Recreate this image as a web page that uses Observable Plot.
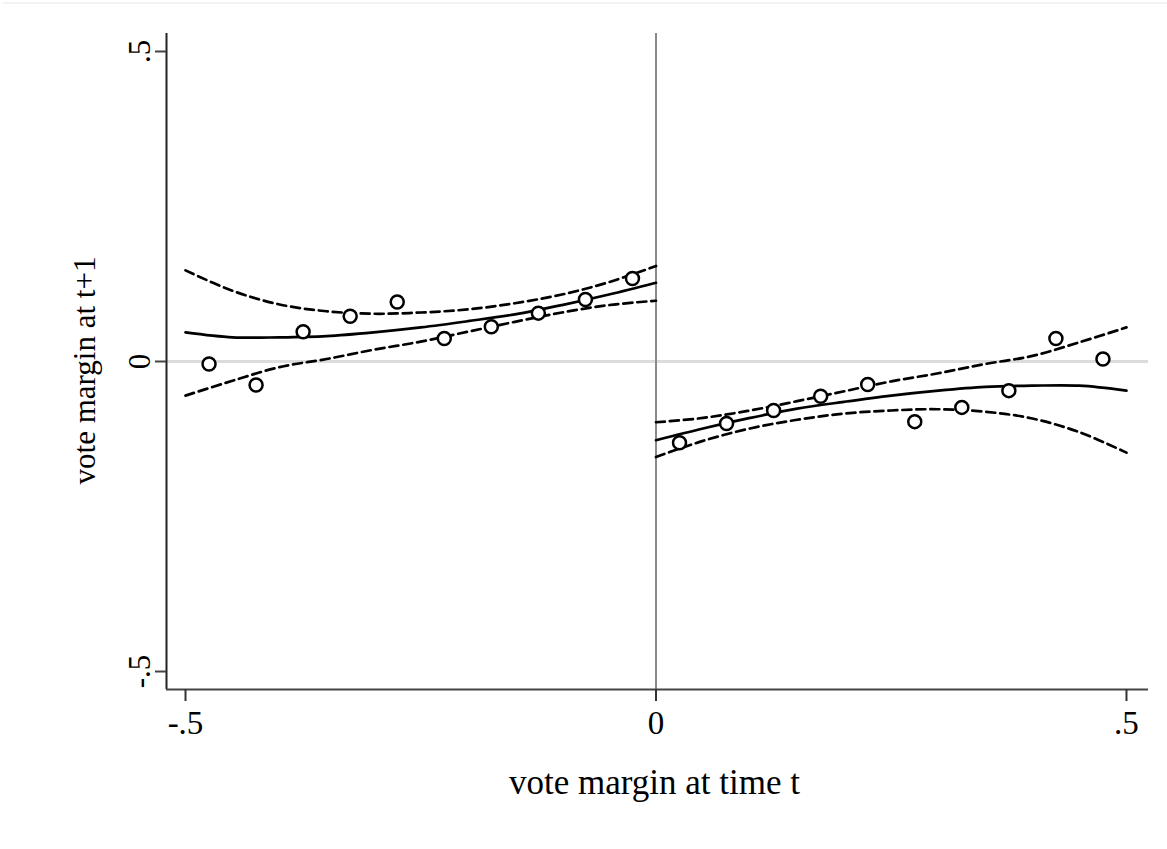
<!DOCTYPE html>
<html>
<head>
<meta charset="utf-8">
<script src="https://cdn.jsdelivr.net/npm/d3@7"></script>
<script src="https://cdn.jsdelivr.net/npm/@observablehq/plot@0.6"></script>
<style>
  html, body { margin: 0; padding: 0; background: #fff; }
  #chart { position: absolute; left: 0; top: 0; }
  #topline { position: absolute; left: 3px; right: 0; top: 2px; height: 2px; background: #f2f2f2; }
</style>
</head>
<body>
<div id="chart"></div>
<div id="topline"></div>
<script>
// ---- Data ----
const binXLeft  = [-0.475, -0.425, -0.375, -0.325, -0.275, -0.225, -0.175, -0.125, -0.075, -0.025];
const binYLeft  = [-0.004, -0.038, 0.048, 0.073, 0.096, 0.037, 0.056, 0.078, 0.100, 0.134];
const binXRight = [0.025, 0.075, 0.125, 0.175, 0.225, 0.275, 0.325, 0.375, 0.425, 0.475];
const binYRight = [-0.131, -0.100, -0.079, -0.056, -0.037, -0.097, -0.074, -0.047, 0.037, 0.004];

const fitXLeft   = [-0.5, -0.45, -0.4, -0.35, -0.3, -0.25, -0.2, -0.15, -0.1, -0.05, 0];
const fitLeft    = [0.047, 0.039, 0.039, 0.041, 0.047, 0.055, 0.065, 0.076, 0.091, 0.108, 0.127];
const upperLeft  = [0.147, 0.114, 0.092, 0.081, 0.077, 0.079, 0.084, 0.094, 0.108, 0.128, 0.154];
const lowerLeft  = [-0.055, -0.031, -0.009, 0.004, 0.019, 0.032, 0.048, 0.064, 0.079, 0.091, 0.098];

const fitXRight  = [0, 0.05, 0.1, 0.15, 0.2, 0.25, 0.3, 0.35, 0.4, 0.45, 0.5];
const fitRight   = [-0.127, -0.108, -0.091, -0.076, -0.065, -0.055, -0.047, -0.041, -0.039, -0.039, -0.047];
const upperRight = [-0.098, -0.091, -0.079, -0.064, -0.048, -0.032, -0.019, -0.004, 0.009, 0.031, 0.055];
const lowerRight = [-0.154, -0.128, -0.108, -0.094, -0.084, -0.079, -0.077, -0.081, -0.092, -0.114, -0.147];

const xTicks = [-0.5, 0, 0.5];
const xTickLabels = ["-.5", "0", ".5"];
const yTicks = [-0.5, 0, 0.5];
const yTickLabels = ["-.5", "0", ".5"];
const xTitle = "vote margin at time t";
const yTitle = "vote margin at t+1";

const xDomain = [-0.5202, 0.5234];
const yDomain = [-0.529, 0.529];

// ---- Chart ----
const solid = {stroke: "black", strokeWidth: 2.7, curve: "catmull-rom"};
const dashed = {stroke: "black", strokeWidth: 2.7, strokeDasharray: "9,5", curve: "catmull-rom"};

const chart = Plot.plot({
  width: 1167,
  height: 849,
  marginLeft: 166,
  marginRight: 19,
  marginTop: 33,
  marginBottom: 160,
  style: {fontFamily: "'Liberation Serif', 'Times New Roman', serif", background: "white", color: "black"},
  x: {domain: xDomain},
  y: {domain: yDomain},
  marks: [
    Plot.ruleY([0], {stroke: "#dcdcdc", strokeWidth: 3}),
    Plot.ruleX([0], {stroke: "#8a8a8a", strokeWidth: 2}),
    Plot.ruleX([xDomain[0]], {stroke: "#222", strokeWidth: 2}),
    Plot.ruleY([yDomain[0]], {stroke: "#444", strokeWidth: 2}),
    Plot.axisX({
      ticks: xTicks,
      tickFormat: d => xTickLabels[xTicks.indexOf(d)],
      tickSize: 12, tickPadding: 9, fontSize: 33,
      stroke: "#333", strokeWidth: 2, fill: "black", label: null
    }),
    Plot.axisY({
      ticks: yTicks,
      tickFormat: d => yTickLabels[yTicks.indexOf(d)],
      tickSize: 11, tickPadding: 6, tickRotate: -90, fontSize: 31,
      stroke: "#444", strokeWidth: 2, fill: "black", label: null
    }),
    Plot.line(fitXLeft, {x: fitXLeft, y: fitLeft, ...solid}),
    Plot.line(fitXLeft, {x: fitXLeft, y: upperLeft, ...dashed}),
    Plot.line(fitXLeft, {x: fitXLeft, y: lowerLeft, ...dashed}),
    Plot.line(fitXRight, {x: fitXRight, y: fitRight, ...solid}),
    Plot.line(fitXRight, {x: fitXRight, y: upperRight, ...dashed}),
    Plot.line(fitXRight, {x: fitXRight, y: lowerRight, ...dashed}),
    Plot.dot(binXLeft, {x: binXLeft, y: binYLeft, r: 6.5, stroke: "black", strokeWidth: 2.5, fill: "white"}),
    Plot.dot(binXRight, {x: binXRight, y: binYRight, r: 6.5, stroke: "black", strokeWidth: 2.5, fill: "white"}),
    Plot.text([xTitle], {text: d => d, frameAnchor: "bottom", dy: 93, dx: -3, fontSize: 35, textAnchor: "middle", lineAnchor: "middle", fill: "black"}),
    Plot.text([yTitle], {text: d => d, frameAnchor: "left", rotate: -90, dx: -72, dy: 9, fontSize: 31, textAnchor: "middle", lineAnchor: "bottom", fill: "black"})
  ]
});
document.getElementById("chart").appendChild(chart);
</script>
</body>
</html>
